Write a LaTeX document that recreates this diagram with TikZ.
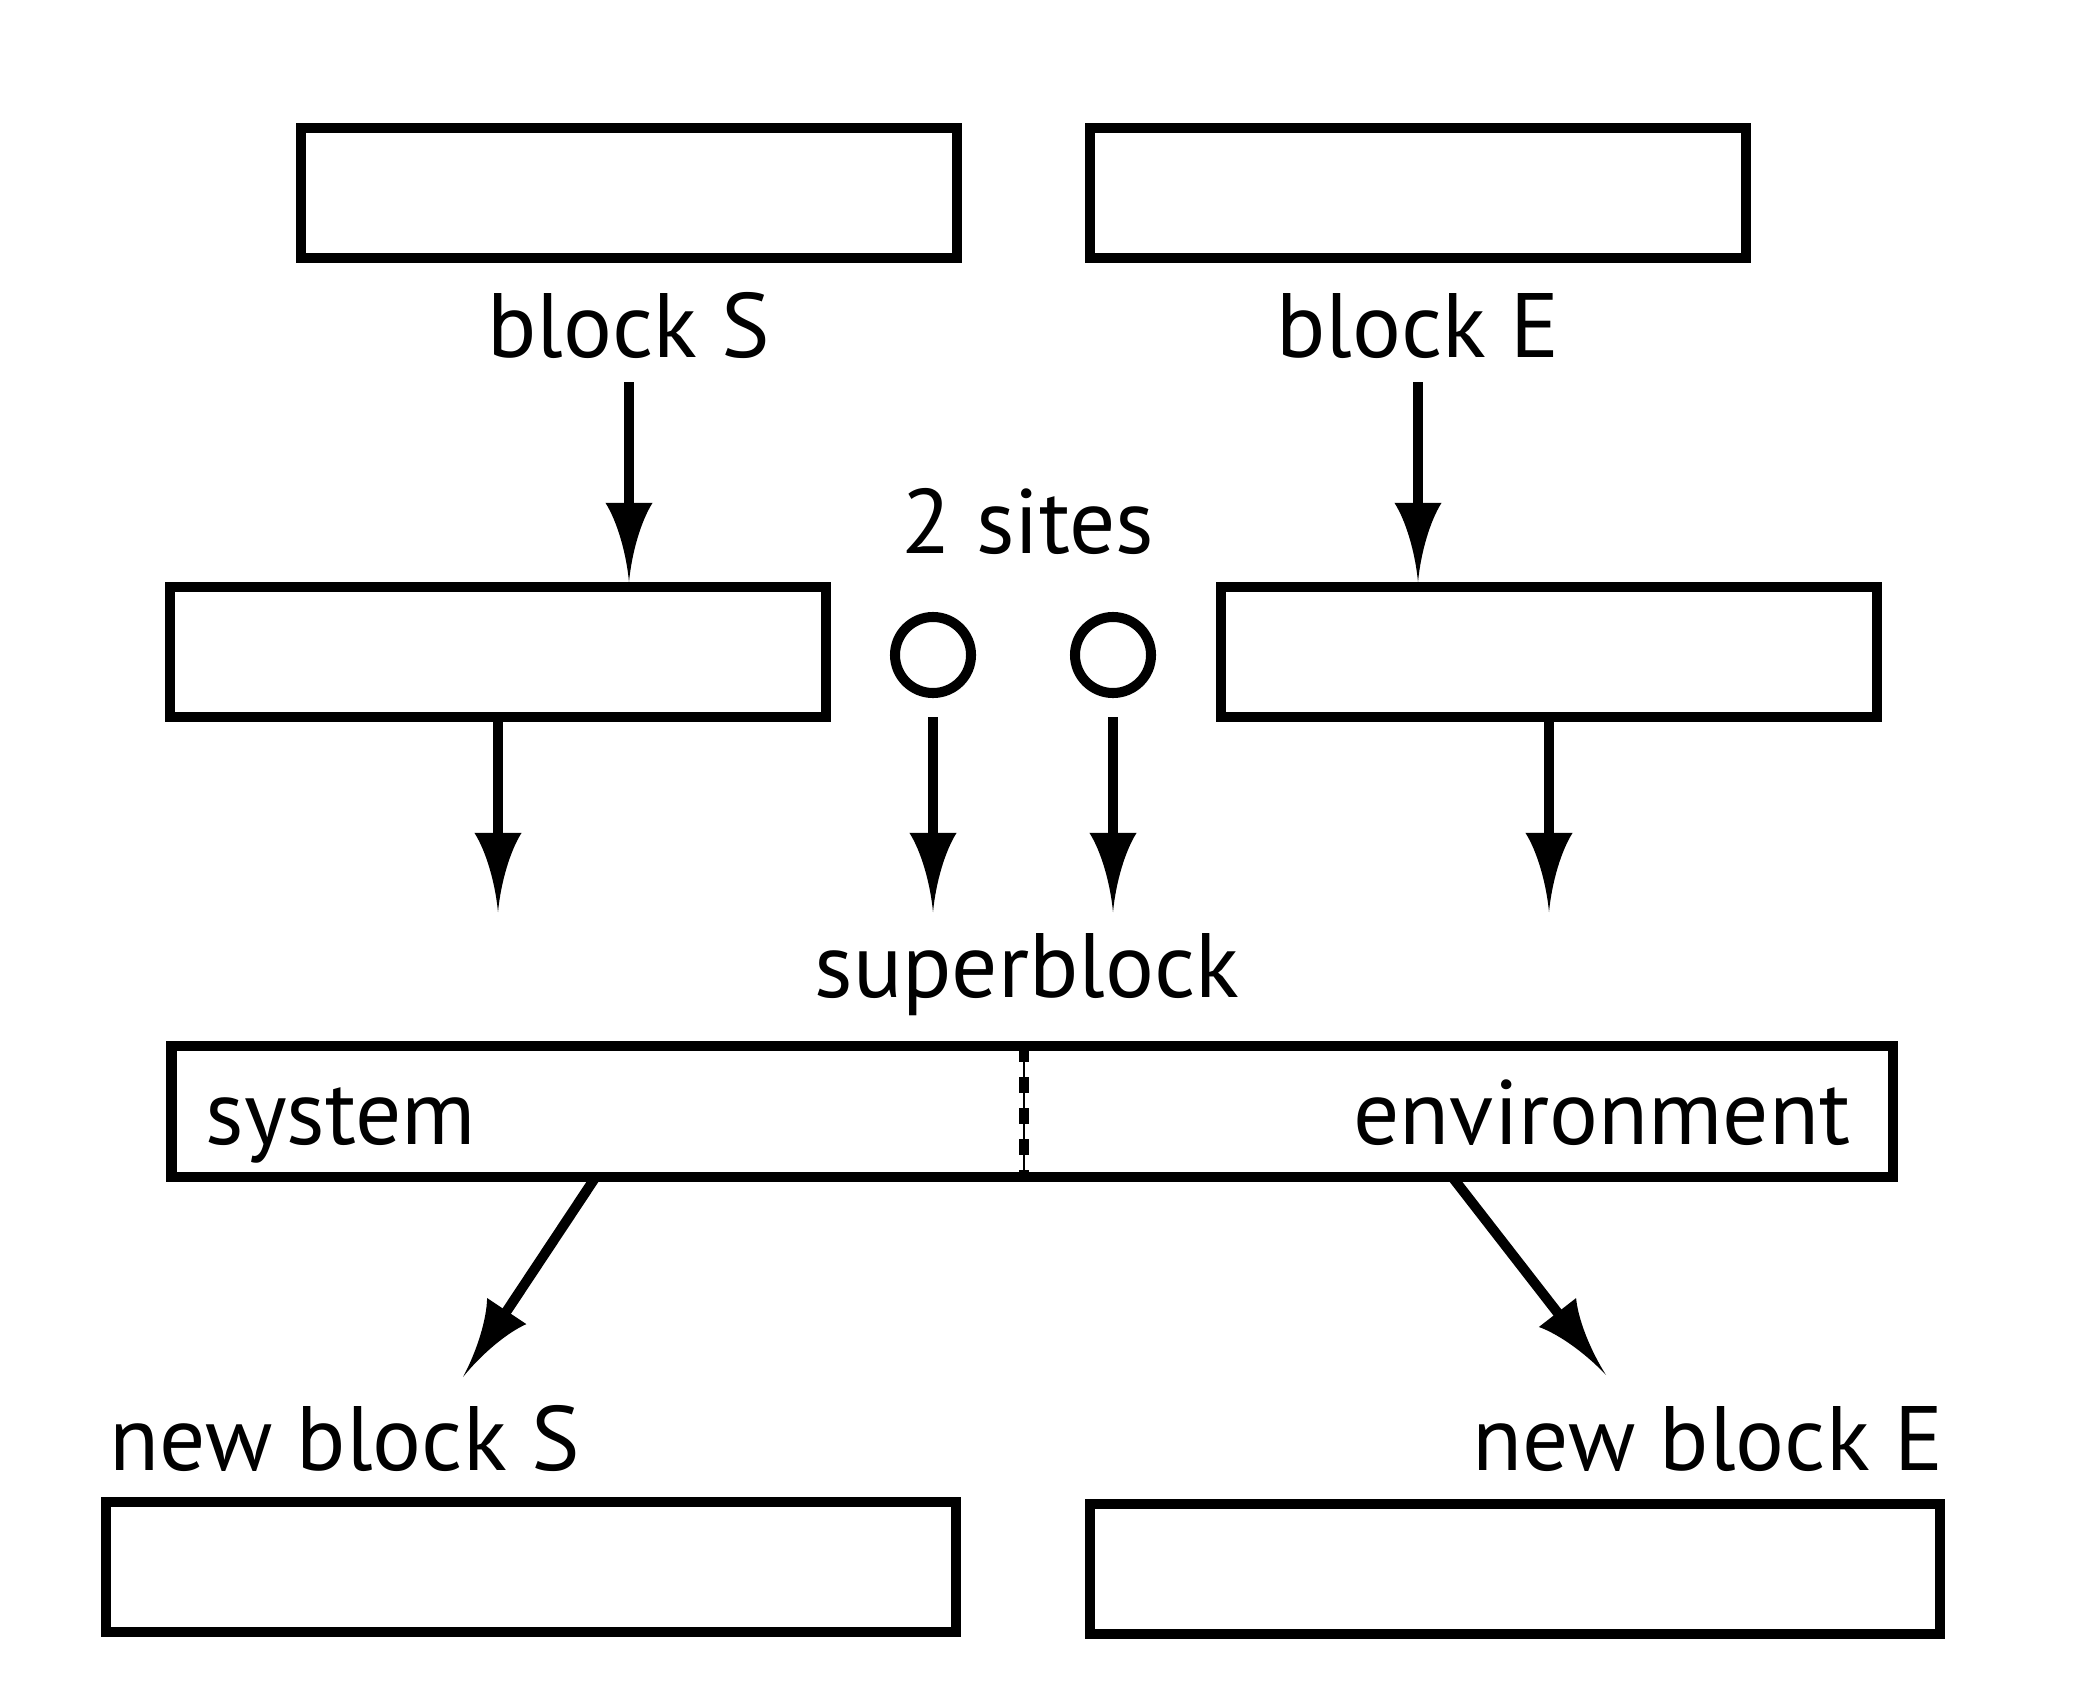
\documentclass[tikz,border=0pt]{standalone}
\usepackage{fontspec}
\setmainfont{PT Sans}
\pgfdeclarearrow{
  name = Spike,
  setup code = {
    \pgfarrowssettipend{22.5pt}
    \pgfarrowssetlineend{8pt}
    \pgfarrowssetbackend{0pt}
  },
  drawing code = {
    \pgfpathmoveto{\pgfqpoint{22.5pt}{0pt}}
    \pgfpathcurveto{\pgfqpoint{14pt}{0.8pt}}{\pgfqpoint{5pt}{3.5pt}}{\pgfqpoint{0pt}{6.7pt}}
    \pgfpathlineto{\pgfqpoint{0pt}{-6.7pt}}
    \pgfpathcurveto{\pgfqpoint{5pt}{-3.5pt}}{\pgfqpoint{14pt}{-0.8pt}}{\pgfqpoint{22.5pt}{0pt}}
    \pgfpathclose
    \pgfusepathqfill
  }
}
\begin{document}
\begin{tikzpicture}[x=0.01cm,y=-0.01cm,
  lw/.style={line width=2.85pt},
  blockbox/.style={draw, lw, rectangle, inner sep=0pt, minimum width=6.56cm, minimum height=1.30cm},
  wideblock/.style={blockbox, minimum width=8.50cm},
  sitecirc/.style={draw, lw, circle, inner sep=0pt, minimum size=0.76cm},
  lbl/.style={font=\fontsize{26pt}{31pt}\selectfont, inner sep=0pt},
  conn/.style={lw, -Spike}]
\useasboundingbox (0,0) rectangle (2073,1706);
% top row
\node[blockbox] (topS) at (629,193) {};
\node[blockbox] (topE) at (1418,193) {};
\node[lbl, anchor=base] (lblS) at (629,357) {block S};
\node[lbl, anchor=base] (lblE) at (1418,357) {block E};
% second row
\node[blockbox] (midS) at (498,652) {};
\node[blockbox] (midE) at (1549,652) {};
\node[sitecirc] (c1) at (933,655) {};
\node[sitecirc] (c2) at (1113,655) {};
\node[lbl, anchor=base] (sites) at (1028,553) {2 sites};
% superblock
\node[lbl, anchor=base] (sblbl) at (1027,997) {superblock};
\node[draw, lw, rectangle, inner sep=0pt, minimum width=17.20cm, minimum height=1.31cm] (super) at (1032,1111.5) {};
\node[lbl, anchor=base west] (sys) at (205,1144) {system};
\node[lbl, anchor=base east] (env) at (1851,1144) {environment};
\coordinate (d0) at (1024,1051);
\coordinate (d1) at (1024,1172);
\draw[line width=0.3pt] (d0) -- (d1);
\draw[line width=2.7pt, dash pattern=on 0.16cm off 0.15cm, dash phase=0.05cm] (d0) -- (d1);
% bottom row
\node[lbl, anchor=base west] (nlS) at (109,1470) {new block S};
\node[lbl, anchor=base east] (nlE) at (1944,1470) {new block E};
\node[wideblock] (botS) at (531,1567) {};
\node[wideblock] (botE) at (1515,1569) {};
% arrows
\coordinate (aS) at (629,382);
\coordinate (aE) at (1418,382);
\draw[conn] (aS) -- (aS |- midS.north);
\draw[conn] (aE) -- (aE |- midE.north);
\coordinate (t1) at (498,912);
\coordinate (t2) at (933,912);
\coordinate (t3) at (1113,912);
\coordinate (t4) at (1549,912);
\coordinate (s2) at (933,717);
\coordinate (s3) at (1113,717);
\draw[conn] (midS.south) -- (t1);
\draw[conn] (s2) -- (t2);
\draw[conn] (s3) -- (t3);
\draw[conn] (midE.south) -- (t4);
\coordinate (dl0) at (595,1178);
\coordinate (dl1) at (463,1377);
\coordinate (dr0) at (1453,1178);
\coordinate (dr1) at (1606,1375);
\draw[conn] (dl0) -- (dl1);
\draw[conn] (dr0) -- (dr1);
\end{tikzpicture}
\end{document}
